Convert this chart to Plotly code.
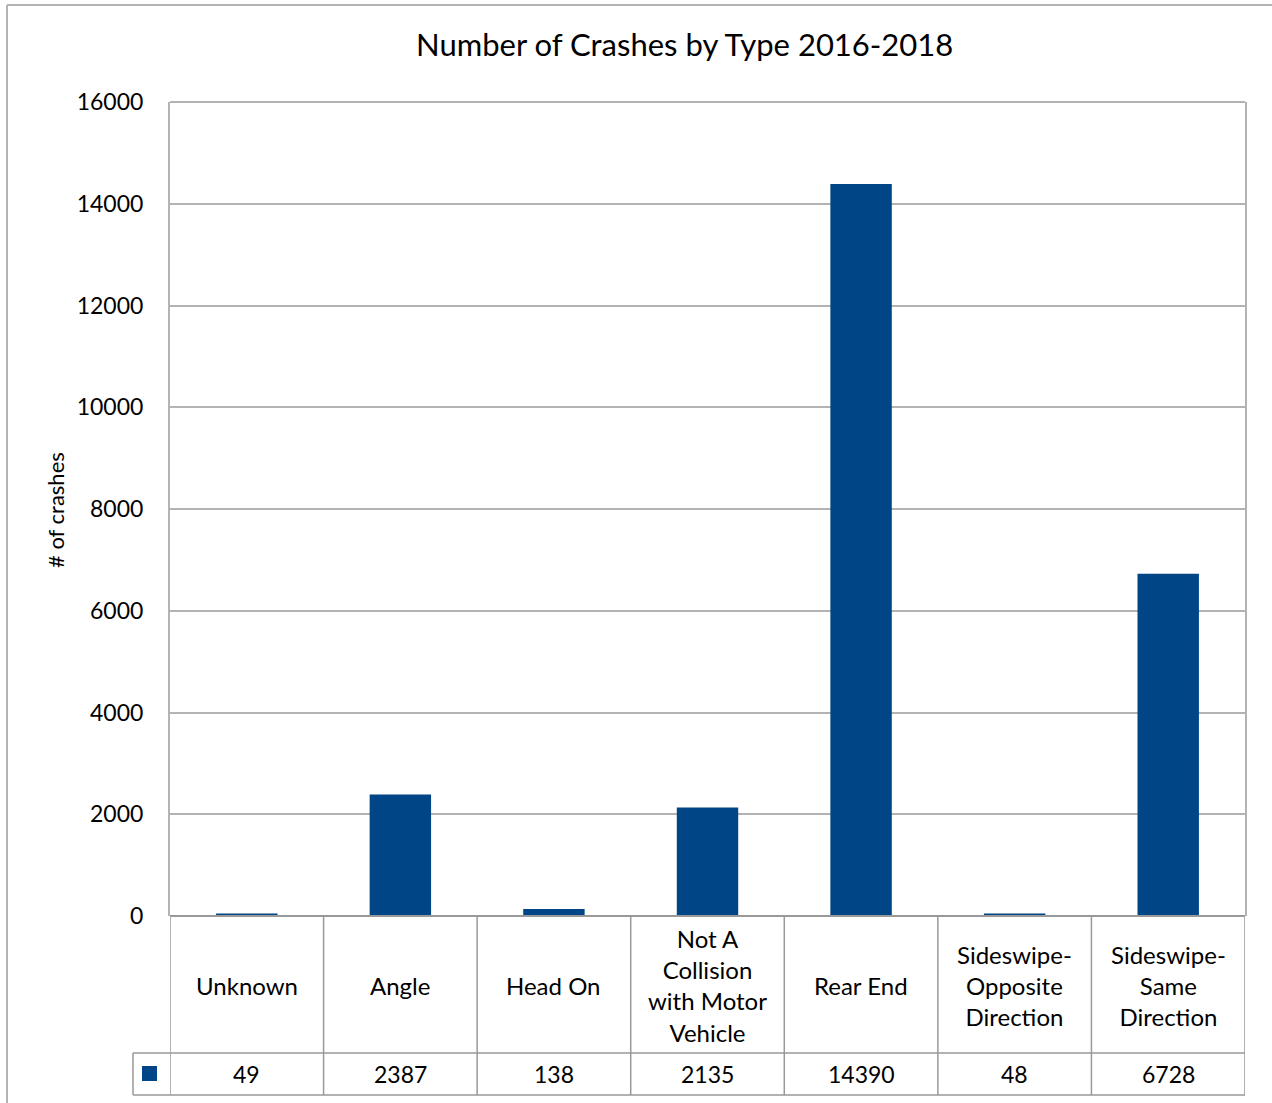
import plotly.graph_objects as go

# Crash counts by collision type, 2016-2018
categories = ["Unknown", "Angle", "Head On", "Not A Collision with Motor Vehicle",
              "Rear End", "Sideswipe-Opposite Direction", "Sideswipe-Same Direction"]
table_labels = ["Unknown", "Angle", "Head On", "Not A<br>Collision<br>with Motor<br>Vehicle",
                "Rear End", "Sideswipe-<br>Opposite<br>Direction", "Sideswipe-<br>Same<br>Direction"]
crashes = [49, 2387, 138, 2135, 14390, 48, 6728]
y_ticks = [0, 2000, 4000, 6000, 8000, 10000, 12000, 14000, 16000]

BAR = "#004586"
GRID = "#b3b3b3"
LINE = "#999999"
FONT = "Lato"

W, H = 1272, 1103
L, R, T, B = 170, 27, 102, 187
PW, PH = W - L - R, H - T - B


def px(xp):
    return (xp - L) / PW


def py(yp):
    return (H - B - yp) / PH


idx = list(range(len(categories)))

fig = go.Figure(go.Bar(x=idx, y=crashes, marker=dict(color=BAR, line=dict(width=0)),
                       width=0.4, hoverinfo="skip"))

shapes = []
annotations = []

# outer chart frame (top and left edges)
shapes.append(dict(type="line", xref="paper", yref="paper", x0=px(7), x1=1.1,
                   y0=py(5), y1=py(5), line=dict(color=GRID, width=2)))
shapes.append(dict(type="line", xref="paper", yref="paper", x0=px(7), x1=px(7),
                   y0=py(5), y1=-0.3, line=dict(color=GRID, width=2)))

# data table beneath the plot
y_top, y_mid, y_bot = py(916), py(1053), py(1095)
for k in range(len(categories) + 1):
    shapes.append(dict(type="line", xref="x", yref="paper", x0=k - 0.5, x1=k - 0.5,
                       y0=y_top, y1=y_bot, line=dict(color=LINE, width=1.5)))
for yy in (y_mid, y_bot):
    shapes.append(dict(type="line", xref="paper", yref="paper", x0=px(133), x1=1,
                       y0=yy, y1=yy, line=dict(color=LINE, width=1.5)))
shapes.append(dict(type="line", xref="paper", yref="paper", x0=px(133), x1=px(133),
                   y0=y_mid, y1=y_bot, line=dict(color=LINE, width=1.5)))
# series key
shapes.append(dict(type="rect", xref="paper", yref="paper", x0=px(142), x1=px(157),
                   y0=py(1081), y1=py(1066), fillcolor=BAR, line=dict(width=0)))
# top frame and baseline
shapes.append(dict(type="line", xref="paper", yref="paper", x0=0, x1=1, y0=1, y1=1,
                   line=dict(color=GRID, width=2)))
shapes.append(dict(type="line", xref="paper", yref="paper", x0=0, x1=1, y0=0, y1=0,
                   line=dict(color=LINE, width=2)))

for i, (lab, v) in enumerate(zip(table_labels, crashes)):
    annotations.append(dict(x=i, y=py(985), xref="x", yref="paper",
                            text=lab.replace("<br>", "<br>"),
                            showarrow=False, align="center", yanchor="middle",
                            font=dict(family=FONT, size=24, color="black")))
    annotations.append(dict(x=i, y=py(1074), xref="x", yref="paper", text=str(v),
                            showarrow=False, yanchor="middle",
                            font=dict(family=FONT, size=23, color="black")))

annotations.append(dict(x=px(684), y=py(44), xref="paper", yref="paper",
                        text="Number of Crashes by Type 2016-2018", showarrow=False,
                        yanchor="middle", font=dict(family=FONT, size=31, color="black")))
annotations.append(dict(x=px(56), y=py(510), xref="paper", yref="paper",
                        text="# of crashes", textangle=-90, showarrow=False,
                        xanchor="center", yanchor="middle",
                        font=dict(family=FONT, size=22, color="black")))

fig.update_layout(
    width=W, height=H,
    margin=dict(l=L, r=R, t=T, b=B),
    paper_bgcolor="white", plot_bgcolor="white",
    showlegend=False,
    bargap=0.6,
    shapes=shapes,
    annotations=annotations,
    font=dict(family=FONT, color="black"),
    xaxis=dict(range=[-0.5, len(categories) - 0.5], showticklabels=False,
               showgrid=False, zeroline=False, showline=False, fixedrange=True),
    yaxis=dict(range=[0, 16000], tickvals=y_ticks, ticktext=[str(t) for t in y_ticks],
               showgrid=True, gridcolor=GRID, gridwidth=2, zeroline=False,
               showline=True, linecolor=GRID, linewidth=2, mirror=True,
               ticks="", ticklabelstandoff=20,
               tickfont=dict(family=FONT, size=23, color="black"), fixedrange=True),
)

fig.write_html("out.html")
